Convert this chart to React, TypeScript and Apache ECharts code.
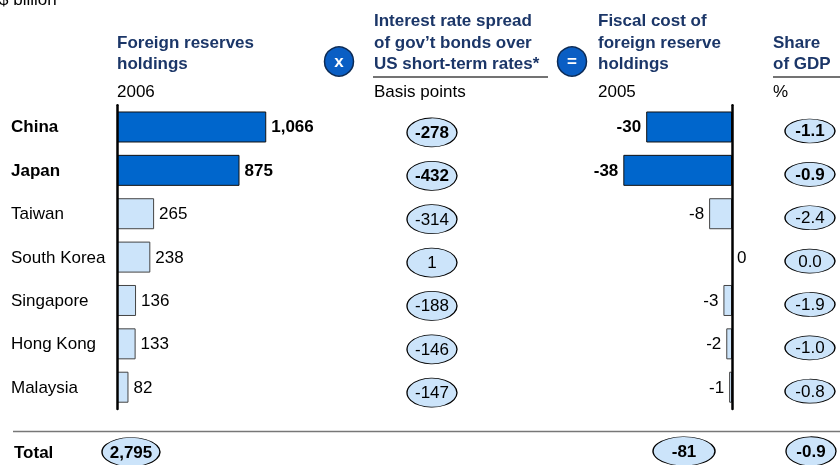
import React, { useEffect, useRef } from "react";
import * as echarts from "echarts";

const countries = ["China", "Japan", "Taiwan", "South Korea", "Singapore", "Hong Kong", "Malaysia"];
const highlighted = ["China", "Japan"];
const reserves2006 = [1066, 875, 265, 238, 136, 133, 82];
const rateSpreadBp = [-278, -432, -314, 1, -188, -146, -147];
const fiscalCost2005 = [-30, -38, -8, 0, -3, -2, -1];
const shareOfGdp = [-1.1, -0.9, -2.4, 0.0, -1.9, -1.0, -0.8];
const totalLabel = ["Total"];
const totalReserves = [2795];
const totalFiscalCost = [-81];
const totalShareOfGdp = [-0.9];

const FONT = '"Liberation Sans", Arial, Helvetica, sans-serif';
const NAVY = "#1B3668";
const DARK = "#0066CC";
const LIGHT = "#CCE4FA";

const isHi = (i: number) => highlighted.includes(countries[i]);

function headerText(text: string, x: number, y: number, bold = true, color = NAVY) {
  return {
    type: "text",
    x,
    y,
    silent: true,
    style: {
      text,
      fill: color,
      fontSize: 17,
      fontWeight: bold ? "bold" : "normal",
      fontFamily: FONT,
      verticalAlign: "middle",
      align: "left",
    },
  };
}

function badge(symbol: string, cx: number, cy: number) {
  return [
    {
      type: "circle",
      shape: { cx, cy, r: 14.5 },
      style: { fill: "#0A5EC4", stroke: "#0B2A55", lineWidth: 1.5 },
      silent: true,
    },
    {
      type: "text",
      x: cx,
      y: cy,
      silent: true,
      style: {
        text: symbol,
        fill: "#fff",
        fontSize: 17,
        fontWeight: "bold",
        fontFamily: FONT,
        align: "center",
        verticalAlign: "middle",
      },
    },
  ];
}

function hline(x1: number, x2: number, y: number, color: string) {
  return {
    type: "line",
    silent: true,
    shape: { x1, y1: y, x2, y2: y },
    style: { stroke: color, lineWidth: 1.5 },
  };
}

export default function App() {
  const ref = useRef<HTMLDivElement>(null);

  useEffect(() => {
    if (!ref.current) return;
    const chart = echarts.init(ref.current, null, { renderer: "svg" });

    const rowTop = 105.3;
    const rowH = 303.6;
    const axisLineStyle = { color: "#000", width: 2.5 };

    const ellipseStyle = { color: LIGHT, borderColor: "#000", borderWidth: 1, opacity: 1 };
    const baseLabel = { fontSize: 17, color: "#000", fontFamily: FONT };

    const option: any = {
      animation: false,
      textStyle: { fontFamily: FONT },
      grid: [
        { left: 117, top: rowTop, width: 210, height: rowH },
        { left: 407, top: rowTop + 5.5, width: 50, height: rowH },
        { left: 617.6, top: rowTop, width: 114.4, height: rowH },
        { left: 785, top: rowTop + 4, width: 50, height: rowH },
        { left: 102, top: 439, width: 58, height: 30 },
        { left: 653, top: 437.5, width: 62, height: 30 },
        { left: 786, top: 437.5, width: 50, height: 30 },
      ],
      xAxis: [
        { gridIndex: 0, type: "value", min: 0, max: 1500, show: false },
        { gridIndex: 1, type: "value", min: 0, max: 1, show: false },
        { gridIndex: 2, type: "value", min: -40, max: 0, show: false },
        { gridIndex: 3, type: "value", min: 0, max: 1, show: false },
        { gridIndex: 4, type: "value", min: 0, max: 1, show: false },
        { gridIndex: 5, type: "value", min: 0, max: 1, show: false },
        { gridIndex: 6, type: "value", min: 0, max: 1, show: false },
      ],
      yAxis: [
        {
          gridIndex: 0,
          type: "category",
          data: countries,
          inverse: true,
          z: 5,
          axisLine: { show: true, onZero: false, lineStyle: axisLineStyle },
          axisTick: { show: false },
          splitLine: { show: false },
          axisLabel: {
            align: "left",
            margin: 106,
            fontSize: 17,
            color: "#000",
            fontFamily: FONT,
            formatter: (v: string) => (highlighted.includes(v) ? `{b|${v}}` : v),
            rich: { b: { fontWeight: "bold", fontSize: 17, color: "#000", fontFamily: FONT } },
          },
        },
        { gridIndex: 1, type: "category", data: countries, inverse: true, show: false },
        {
          gridIndex: 2,
          type: "category",
          data: countries,
          inverse: true,
          position: "right",
          z: 5,
          axisLine: { show: true, onZero: false, lineStyle: axisLineStyle },
          axisTick: { show: false },
          axisLabel: { show: false },
          splitLine: { show: false },
        },
        { gridIndex: 3, type: "category", data: countries, inverse: true, show: false },
        {
          gridIndex: 4,
          type: "category",
          data: totalLabel,
          axisLine: { show: false },
          axisTick: { show: false },
          splitLine: { show: false },
          axisLabel: {
            align: "left",
            margin: 102 - 14,
            fontSize: 17,
            fontWeight: "bold",
            color: "#000",
            fontFamily: FONT,
          },
        },
        { gridIndex: 5, type: "category", data: totalLabel, show: false },
        { gridIndex: 6, type: "category", data: totalLabel, show: false },
      ],
      series: [
        {
          type: "bar",
          xAxisIndex: 0,
          yAxisIndex: 0,
          barWidth: 31,
          data: reserves2006.map((v, i) => ({
            value: v,
            itemStyle: {
              color: isHi(i) ? DARK : LIGHT,
              borderColor: isHi(i) ? "#111" : "#444",
              borderWidth: 1,
            },
            label: { fontWeight: isHi(i) ? "bold" : "normal" },
          })),
          label: {
            show: true,
            position: "right",
            distance: 5,
            ...baseLabel,
            formatter: (p: any) => Number(p.value).toLocaleString("en-US"),
          },
        },
        {
          type: "scatter",
          xAxisIndex: 1,
          yAxisIndex: 1,
          symbol: "circle",
          symbolSize: [50, 29],
          itemStyle: ellipseStyle,
          data: rateSpreadBp.map((v, i) => ({
            value: [0.5, i, v],
            label: { fontWeight: isHi(i) ? "bold" : "normal" },
          })),
          label: {
            show: true,
            position: "inside",
            ...baseLabel,
            formatter: (p: any) => String(p.value[2]),
          },
        },
        {
          type: "bar",
          xAxisIndex: 2,
          yAxisIndex: 2,
          barWidth: 31,
          data: fiscalCost2005.map((v, i) => ({
            value: v,
            itemStyle: {
              color: isHi(i) ? DARK : LIGHT,
              borderColor: isHi(i) ? "#111" : "#444",
              borderWidth: v === 0 ? 0 : 1,
            },
            label: {
              fontWeight: isHi(i) ? "bold" : "normal",
              position: v === 0 ? "right" : "left",
            },
          })),
          label: {
            show: true,
            distance: 5,
            ...baseLabel,
            formatter: (p: any) => String(p.value),
          },
        },
        {
          type: "scatter",
          xAxisIndex: 3,
          yAxisIndex: 3,
          symbol: "circle",
          symbolSize: [50, 24],
          itemStyle: ellipseStyle,
          data: shareOfGdp.map((v, i) => ({
            value: [0.5, i, v],
            label: { fontWeight: isHi(i) ? "bold" : "normal" },
          })),
          label: {
            show: true,
            position: "inside",
            ...baseLabel,
            formatter: (p: any) => Number(p.value[2]).toFixed(1),
          },
        },
        {
          type: "scatter",
          xAxisIndex: 4,
          yAxisIndex: 4,
          symbol: "circle",
          symbolSize: [58, 29],
          itemStyle: ellipseStyle,
          data: totalReserves.map((v) => [0.5, 0, v]),
          label: {
            show: true,
            position: "inside",
            ...baseLabel,
            fontWeight: "bold",
            formatter: (p: any) => Number(p.value[2]).toLocaleString("en-US"),
          },
        },
        {
          type: "scatter",
          xAxisIndex: 5,
          yAxisIndex: 5,
          symbol: "circle",
          symbolSize: [62, 29],
          itemStyle: ellipseStyle,
          data: totalFiscalCost.map((v) => [0.5, 0, v]),
          label: {
            show: true,
            position: "inside",
            ...baseLabel,
            fontWeight: "bold",
            formatter: (p: any) => String(p.value[2]),
          },
        },
        {
          type: "scatter",
          xAxisIndex: 6,
          yAxisIndex: 6,
          symbol: "circle",
          symbolSize: [50, 29],
          itemStyle: ellipseStyle,
          data: totalShareOfGdp.map((v) => [0.5, 0, v]),
          label: {
            show: true,
            position: "inside",
            ...baseLabel,
            fontWeight: "bold",
            formatter: (p: any) => Number(p.value[2]).toFixed(1),
          },
        },
      ],
      graphic: [
        headerText("$ billion", -1, -0.5, false, "#000"),
        headerText("Foreign reserves", 117, 42),
        headerText("holdings", 117, 63),
        headerText("2006", 117, 91, false, "#000"),
        ...badge("x", 339, 61.5),
        headerText("Interest rate spread", 374, 20),
        headerText("of gov\u2019t bonds over", 374, 42),
        headerText("US short-term rates*", 374, 63),
        hline(373, 548, 77, "#444"),
        headerText("Basis points", 374, 91, false, "#000"),
        ...badge("=", 572, 61.5),
        headerText("Fiscal cost of", 598, 20),
        headerText("foreign reserve", 598, 42),
        headerText("holdings", 598, 63),
        headerText("2005", 598, 91, false, "#000"),
        headerText("Share", 773, 42),
        headerText("of GDP", 773, 63),
        hline(773, 840, 77, "#444"),
        headerText("%", 773, 91, false, "#000"),
        hline(13, 840, 431.5, "#777"),
      ],
    };

    chart.setOption(option);
    return () => chart.dispose();
  }, []);

  return (
    <div
      ref={ref}
      style={{ position: "fixed", left: 0, top: 0, width: 840, height: 465 }}
    />
  );
}
